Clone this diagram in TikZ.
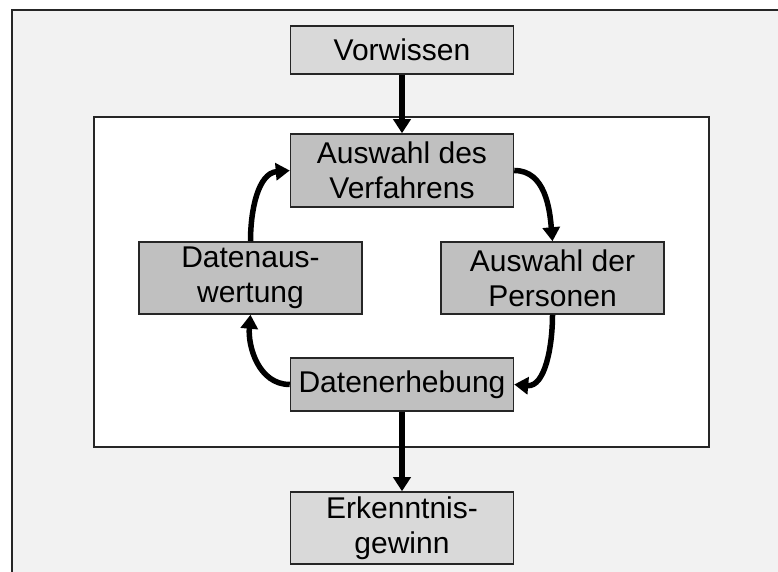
\documentclass[tikz,border=0pt]{standalone}
\usepackage{fontspec}
\setmainfont{Liberation Sans}
\usetikzlibrary{arrows.meta}
\definecolor{framegray}{HTML}{F2F2F2}
\definecolor{boxgray}{HTML}{C0C0C0}
\definecolor{endgray}{HTML}{D9D9D9}

\begin{document}
\begin{tikzpicture}[x=1pt, y=1pt,
	phasebox/.style={draw=black!85, line width=1.5pt, fill=boxgray, minimum width=223pt,
		minimum height=72pt, align=center, inner sep=0pt, font=\fontsize{30}{35}\selectfont},
	endbox/.style={phasebox, fill=endgray},
	flow/.style={line width=5.5pt, -{Triangle[width=17pt,length=14pt]}}]
	\useasboundingbox (0, 0) rectangle (778, 572);
	\fill[white] (0, 0) rectangle (778, 572);
	\fill[framegray] (12, 0) rectangle (778, 562);
	\draw[line width=1.5pt, black!85] (12, 0) -- (12, 562) -- (778, 562);

	% inner cycle frame
	\draw[line width=1.5pt, black!85, fill=white] (94, 125) rectangle (709, 455);

	\node[endbox, minimum height=48pt] (vorwissen) at (402, 522) {Vorwissen};
	\node[phasebox, minimum height=73pt] (verfahren) at (402, 401.5) {Auswahl des\\Verfahrens};
	\node[phasebox] (auswertung) at (250.5, 294) {Datenaus-\\wertung};
	\node[phasebox] (personen) at (552.5, 294) {Auswahl der\\Personen};
	\node[phasebox, minimum height=53pt] (erhebung) at (402, 187.5) {Datenerhebung};
	\node[endbox] (gewinn) at (402, 44) {Erkenntnis-\\gewinn};

	\draw[flow] (vorwissen) -- (verfahren);
	\draw[flow] (verfahren.east) to[out=0, in=95] (personen.north);
	\draw[flow] (personen.south) to[out=-90, in=-5] (erhebung.east);
	\draw[flow] (erhebung.west) to[out=180, in=-95] (auswertung.south);
	\draw[flow] (auswertung.north) to[out=90, in=185] (verfahren.west);
	\draw[flow] (erhebung) -- (gewinn);
\end{tikzpicture}
\end{document}
